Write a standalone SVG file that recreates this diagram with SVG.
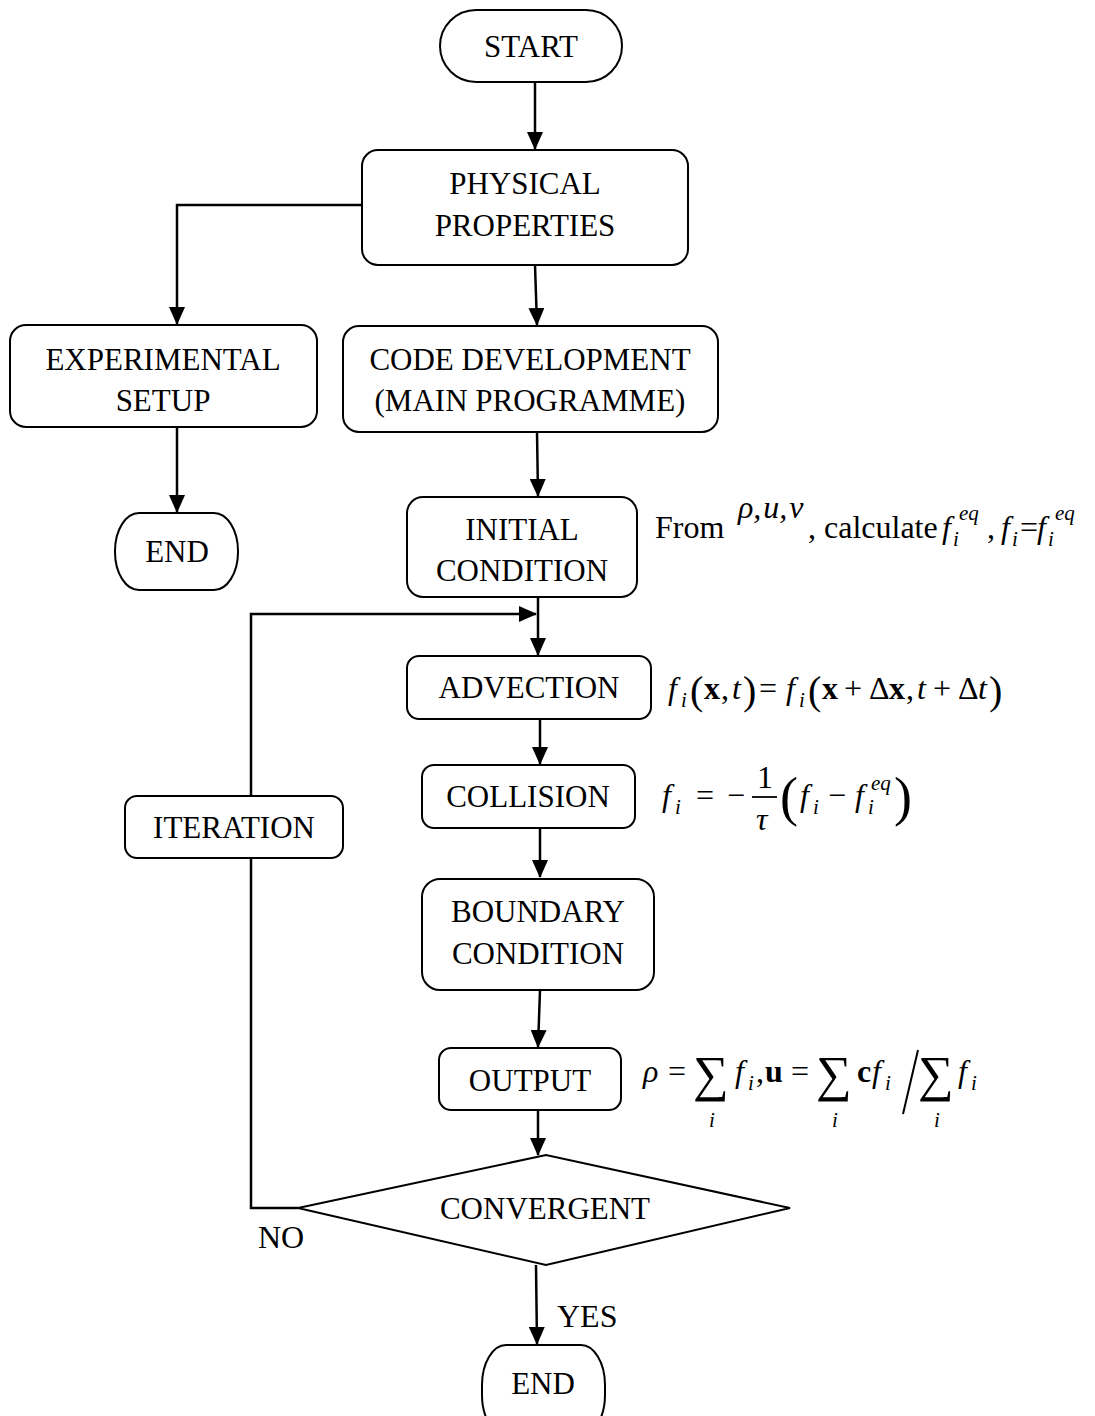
<svg xmlns="http://www.w3.org/2000/svg" width="1095" height="1416" viewBox="0 0 1095 1416">
  <style>
    .box { fill: #ffffff; stroke: #000000; stroke-width: 2; }
    .lbl { font-family: "Liberation Serif", "Times New Roman", serif; font-size: 31px; fill: #000000; text-anchor: middle; }
    .tx { font-family: "Liberation Serif", "Times New Roman", serif; font-size: 32px; fill: #000000; }
    .it { font-style: italic; }
    .bd { font-weight: bold; }
    .sub { font-size: 21px; font-style: italic; }
    .sig { font-size: 50px; }
    .par { font-size: 40px; }
    .bigpar { font-size: 54px; }
    .link { fill: none; stroke: #000000; stroke-width: 2.5; }
  </style>
  <defs>
    <marker id="arrow" markerUnits="userSpaceOnUse" markerWidth="18" markerHeight="16" refX="17" refY="8" orient="auto">
      <path d="M0,0 L18,8 L0,16 z" fill="#000000"/>
    </marker>
  </defs>
  <rect width="1095" height="1416" fill="#ffffff"/>

  <!-- connectors -->
  <g id="connectors">
    <line class="link" x1="535" y1="82" x2="535" y2="149" marker-end="url(#arrow)"/>
    <polyline class="link" points="362,205 177,205 177,324" marker-end="url(#arrow)"/>
    <line class="link" x1="535" y1="265" x2="537" y2="325" marker-end="url(#arrow)"/>
    <line class="link" x1="177" y1="427" x2="177" y2="512" marker-end="url(#arrow)"/>
    <line class="link" x1="537" y1="432" x2="538" y2="496" marker-end="url(#arrow)"/>
    <line class="link" x1="538" y1="597" x2="538" y2="655" marker-end="url(#arrow)"/>
    <polyline class="link" points="298,1208 251,1208 251,614 536,614" marker-end="url(#arrow)"/>
    <line class="link" x1="540" y1="719" x2="540" y2="764" marker-end="url(#arrow)"/>
    <line class="link" x1="540" y1="828" x2="540" y2="877" marker-end="url(#arrow)"/>
    <line class="link" x1="540" y1="990" x2="538" y2="1047" marker-end="url(#arrow)"/>
    <line class="link" x1="538" y1="1110" x2="538" y2="1155" marker-end="url(#arrow)"/>
    <line class="link" x1="536" y1="1265" x2="537" y2="1344" marker-end="url(#arrow)"/>
  </g>

  <g id="start">
    <rect class="box" x="440" y="10" width="182" height="72" rx="36" ry="36"/>
    <text class="lbl" x="531" y="57">START</text>
  </g>

  <g id="physical-properties">
    <rect class="box" x="362" y="150" width="326" height="115" rx="16" ry="16"/>
    <text class="lbl" x="525" y="194">PHYSICAL</text>
    <text class="lbl" x="525" y="236">PROPERTIES</text>
  </g>

  <g id="experimental-setup">
    <rect class="box" x="10" y="325" width="307" height="102" rx="16" ry="16"/>
    <text class="lbl" x="163" y="370">EXPERIMENTAL</text>
    <text class="lbl" x="163" y="411">SETUP</text>
  </g>

  <g id="code-development">
    <rect class="box" x="343" y="326" width="375" height="106" rx="16" ry="16"/>
    <text class="lbl" x="530" y="370">CODE DEVELOPMENT</text>
    <text class="lbl" x="530" y="411">(MAIN PROGRAMME)</text>
  </g>

  <g id="end-setup">
    <rect class="box" x="115" y="513" width="123" height="77" rx="24" ry="38"/>
    <text class="lbl" x="177" y="562">END</text>
  </g>

  <g id="initial-condition">
    <rect class="box" x="407" y="497" width="230" height="100" rx="16" ry="16"/>
    <text class="lbl" x="522" y="540">INITIAL</text>
    <text class="lbl" x="522" y="581">CONDITION</text>
  </g>

  <g id="advection">
    <rect class="box" x="407" y="656" width="244" height="63" rx="12" ry="12"/>
    <text class="lbl" x="529" y="698">ADVECTION</text>
  </g>

  <g id="collision">
    <rect class="box" x="422" y="765" width="213" height="63" rx="12" ry="12"/>
    <text class="lbl" x="528" y="807">COLLISION</text>
  </g>

  <g id="iteration">
    <rect class="box" x="125" y="796" width="218" height="62" rx="12" ry="12"/>
    <text class="lbl" x="234" y="838">ITERATION</text>
  </g>

  <g id="boundary-condition">
    <rect class="box" x="422" y="879" width="232" height="111" rx="18" ry="18"/>
    <text class="lbl" x="538" y="922">BOUNDARY</text>
    <text class="lbl" x="538" y="964">CONDITION</text>
  </g>

  <g id="output">
    <rect class="box" x="439" y="1048" width="182" height="62" rx="12" ry="12"/>
    <text class="lbl" x="530" y="1091">OUTPUT</text>
  </g>

  <g id="convergent">
    <polygon class="box" points="298,1208 546,1155 790,1208 546,1265"/>
    <text class="lbl" x="545" y="1219">CONVERGENT</text>
  </g>

  <g id="end-main">
    <rect class="box" x="482" y="1345" width="123" height="90" rx="24" ry="40"/>
    <text class="lbl" x="543" y="1394">END</text>
  </g>

  <!-- branch labels -->
  <text class="tx" x="258" y="1248">NO</text>
  <text class="tx" x="557" y="1327">YES</text>

  <!-- equations beside the loop steps -->
  <g id="eq-initial">
    <text class="tx" x="655" y="538">From</text>
    <text class="tx it" x="738" y="518">ρ,<tspan dx="2">u</tspan>,<tspan dx="2">v</tspan></text>
    <text class="tx" x="808" y="538">, calculate</text>
    <text class="tx it" x="942" y="538">f</text>
    <text class="tx sub" x="953" y="546">i</text>
    <text class="tx sub" x="959" y="520">eq</text>
    <text class="tx" x="987" y="538">,</text>
    <text class="tx it" x="1001" y="538">f</text>
    <text class="tx sub" x="1012" y="546">i</text>
    <text class="tx" x="1020" y="538">=</text>
    <text class="tx it" x="1037" y="538">f</text>
    <text class="tx sub" x="1048" y="546">i</text>
    <text class="tx sub" x="1055" y="520">eq</text>
  </g>

  <g id="eq-advection">
    <text class="tx it" x="668" y="699">f</text>
    <text class="tx sub" x="681" y="707">i</text>
    <text class="tx par" x="690" y="704">(</text>
    <text class="tx bd" x="704" y="699">x</text>
    <text class="tx" x="721" y="699">,</text>
    <text class="tx it" x="732" y="699">t</text>
    <text class="tx par" x="743" y="704">)</text>
    <text class="tx" x="759" y="699">=</text>
    <text class="tx it" x="786" y="699">f</text>
    <text class="tx sub" x="799" y="707">i</text>
    <text class="tx par" x="808" y="704">(</text>
    <text class="tx bd" x="822" y="699">x</text>
    <text class="tx" x="844" y="699">+</text>
    <text class="tx" x="869" y="699">Δ</text>
    <text class="tx bd" x="889" y="699">x</text>
    <text class="tx" x="906" y="699">,</text>
    <text class="tx it" x="917" y="699">t</text>
    <text class="tx" x="933" y="699">+</text>
    <text class="tx" x="958" y="699">Δ</text>
    <text class="tx it" x="978" y="699">t</text>
    <text class="tx par" x="989" y="704">)</text>
  </g>

  <g id="eq-collision">
    <text class="tx it" x="662" y="806">f</text>
    <text class="tx sub" x="675" y="814">i</text>
    <text class="tx" x="696" y="806">=</text>
    <text class="tx" x="727" y="806">−</text>
    <text class="tx" x="757" y="788">1</text>
    <line x1="752" y1="797" x2="777" y2="797" stroke="#000000" stroke-width="1.8"/>
    <text class="tx it" x="756" y="830">τ</text>
    <text class="tx bigpar" x="780" y="815">(</text>
    <text class="tx it" x="800" y="806">f</text>
    <text class="tx sub" x="813" y="814">i</text>
    <text class="tx" x="828" y="806">−</text>
    <text class="tx it" x="855" y="806">f</text>
    <text class="tx sub" x="868" y="814">i</text>
    <text class="tx sub" x="871" y="790">eq</text>
    <text class="tx bigpar" x="894" y="815">)</text>
  </g>

  <g id="eq-output">
    <text class="tx it" x="643" y="1082">ρ</text>
    <text class="tx" x="668" y="1082">=</text>
    <text class="tx sig" x="693" y="1091">∑</text>
    <text class="tx sub" x="709" y="1127">i</text>
    <text class="tx it" x="735" y="1082">f</text>
    <text class="tx sub" x="748" y="1090">i</text>
    <text class="tx" x="756" y="1082">,</text>
    <text class="tx bd" x="765" y="1082">u</text>
    <text class="tx" x="791" y="1082">=</text>
    <text class="tx sig" x="816" y="1091">∑</text>
    <text class="tx sub" x="832" y="1127">i</text>
    <text class="tx bd" x="857" y="1082">c</text>
    <text class="tx it" x="872" y="1082">f</text>
    <text class="tx sub" x="885" y="1090">i</text>
    <line x1="918" y1="1050" x2="903" y2="1114" stroke="#000000" stroke-width="2"/>
    <text class="tx sig" x="918" y="1091">∑</text>
    <text class="tx sub" x="934" y="1127">i</text>
    <text class="tx it" x="958" y="1082">f</text>
    <text class="tx sub" x="971" y="1090">i</text>
  </g>
</svg>
